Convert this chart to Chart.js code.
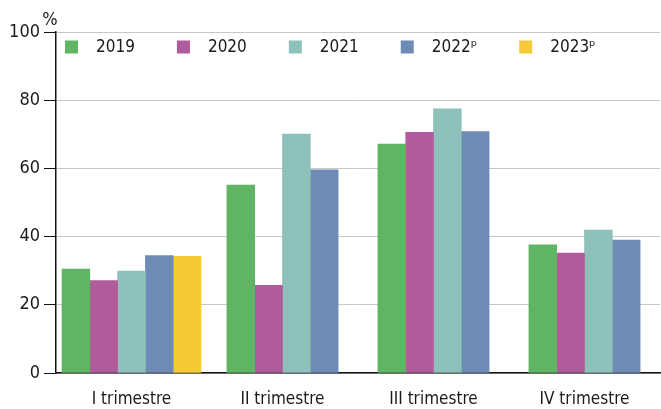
<!DOCTYPE html>
<html>
<head>
<meta charset="utf-8">
<script src="https://cdn.jsdelivr.net/npm/chart.js@4.4.0/dist/chart.umd.min.js"></script>
<style>
  html, body { margin: 0; padding: 0; background: #fff; }
  #wrap { width: 661px; height: 409px; position: relative; }
</style>
</head>
<body>
<div id="wrap"><canvas id="c"></canvas></div>
<script>
const categories = ["I trimestre", "II trimestre", "III trimestre", "IV trimestre"];
const seriesNames = ["2019", "2020", "2021", "2022\u1D56", "2023\u1D56"];
const s2019 = [30.5, 55.1, 67.1, 37.6];
const s2020 = [27.1, 25.7, 70.6, 35.2];
const s2021 = [29.9, 70.1, 77.5, 41.9];
const s2022 = [34.4, 59.6, 70.8, 39.0];
const s2023 = [34.2, null, null, null];
const yTicks = [0, 20, 40, 60, 80, 100];

const colors = ["#5fb563", "#b05b9c", "#8dc1ba", "#6e8bb5", "#f5ca35"];
const FONT = '"DejaVu Sans Condensed", "DejaVu Sans", sans-serif';
const allSeries = [s2019, s2020, s2021, s2022, s2023];

const legendPlugin = {
  id: 'customLegend',
  afterDraw(chart) {
    const ctx = chart.ctx;
    const area = chart.chartArea;
    ctx.save();
    ctx.font = 'condensed 17px ' + FONT;
    ctx.textBaseline = 'middle';
    ctx.textAlign = 'left';
    let x = area.left + 9;
    const y = area.top + 15;
    chart.data.datasets.forEach(ds => {
      ctx.fillStyle = ds.backgroundColor;
      ctx.fillRect(x, y - 6.5, 13, 13);
      ctx.fillStyle = '#1a1a1a';
      ctx.fillText(ds.label, x + 31, y + 1);
      x += 31 + ctx.measureText(ds.label).width + 42;
    });
    // percent sign
    ctx.font = 'condensed 18px ' + FONT;
    ctx.textAlign = 'center';
    ctx.textBaseline = 'alphabetic';
    ctx.fillText('%', area.left - 6, 25);
    ctx.restore();
  }
};

new Chart(document.getElementById('c'), {
  type: 'bar',
  data: {
    labels: categories,
    datasets: allSeries.map((d, i) => ({
      label: seriesNames[i],
      data: d,
      backgroundColor: colors[i],
      borderWidth: 0,
      barThickness: 27.8,
      skipNull: true
    }))
  },
  options: {
    responsive: true,
    maintainAspectRatio: false,
    animation: false,
    layout: { padding: { top: 32, right: 1, left: 0, bottom: 0 } },
    plugins: {
      legend: { display: false },
      tooltip: { enabled: false }
    },
    scales: {
      x: {
        grid: { display: false },
        border: { display: true, color: '#111', width: 1.5 },
        ticks: { color: '#1a1a1a', font: { family: FONT, size: 17, weight: 'condensed' }, padding: 8 },
        afterFit(s) { s.height = 36; }
      },
      y: {
        min: 0, max: 100,
        afterBuildTicks(s) { s.ticks = yTicks.map(v => ({ value: v })); },
        grid: { color: '#c8c8c8', lineWidth: 1, tickColor: '#111', tickLength: 12, drawTicks: true },
        border: { display: true, color: '#111', width: 1.5 },
        ticks: { color: '#1a1a1a', font: { family: FONT, size: 18, weight: 'condensed' }, padding: 4 },
        afterFit(s) { s.width = 56; }
      }
    }
  },
  plugins: [legendPlugin]
});
</script>
</body>
</html>
